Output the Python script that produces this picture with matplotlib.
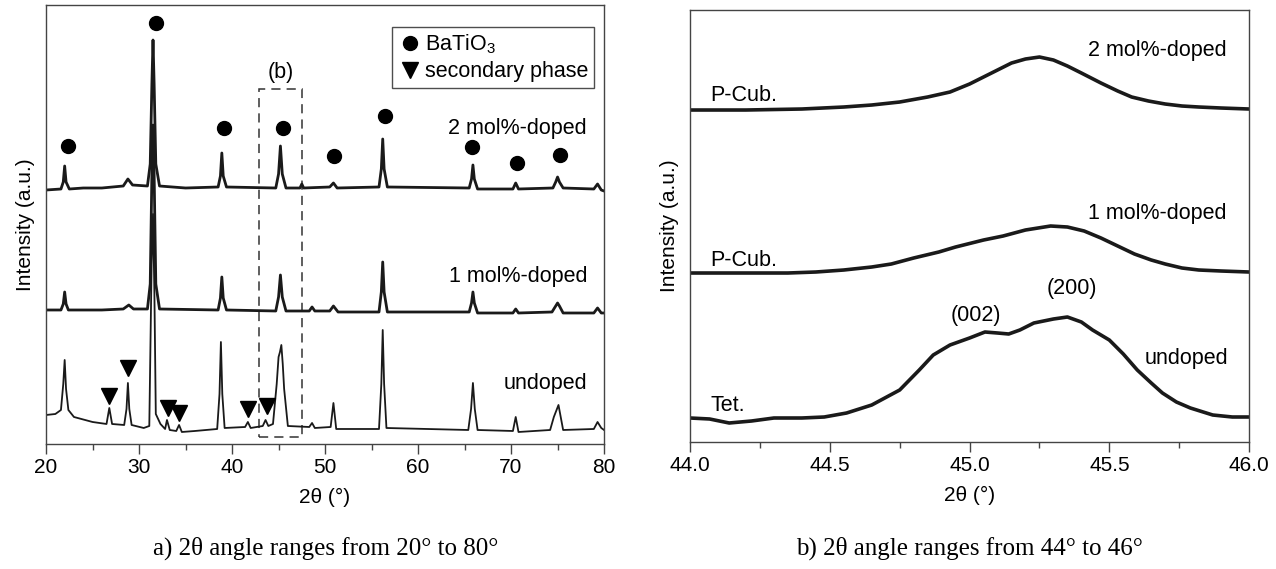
import matplotlib
matplotlib.use("Agg")
import matplotlib.pyplot as plt
from matplotlib.lines import Line2D
from matplotlib.patches import Rectangle

plt.rcParams['font.family'] = ['Liberation Sans', 'DejaVu Sans']
plt.rcParams['mathtext.default'] = 'regular'

# ---- panel a) 2theta 20-80, traces (a.u.)
tt_2mol = [20.0, 21.6, 21.85, 22.0, 22.15, 22.5, 24.0, 26.0, 28.3, 28.8, 29.3,
           30.9, 31.2, 31.38, 31.5, 31.62, 31.8, 32.2, 35.0,
           38.5, 38.75, 38.9, 39.05, 39.4, 44.7, 45.0, 45.2, 45.4, 45.8,
           47.3, 47.5, 47.7, 50.5, 50.9, 51.3,
           55.8, 56.05, 56.2, 56.35, 56.7, 65.5, 65.75, 65.9, 66.05, 66.4,
           70.2, 70.5, 70.8, 74.5, 74.8, 75.0, 75.2, 75.6,
           78.9, 79.3, 79.7, 80.0]
i_2mol = [254, 255, 262, 278, 262, 255, 256, 256, 258, 265, 259,
          258, 280, 360, 404, 360, 280, 258, 256,
          257, 268, 291, 268, 257, 256, 270, 298, 270, 256,
          256, 260, 256, 257, 261, 256,
          257, 275, 305, 275, 257, 256, 265, 279, 265, 255,
          255, 261, 255, 256, 262, 267, 262, 256,
          255, 260, 254, 253]

tt_1mol = [20.0, 21.6, 21.85, 22.0, 22.15, 22.4, 26.0, 28.3, 28.9, 29.4,
           30.9, 31.2, 31.38, 31.5, 31.62, 31.8, 32.2,
           38.5, 38.75, 38.9, 39.05, 39.4, 44.7, 45.0, 45.2, 45.4, 45.8,
           48.3, 48.6, 48.9, 50.5, 50.9, 51.4,
           55.8, 56.05, 56.2, 56.35, 56.7, 65.5, 65.75, 65.9, 66.05, 66.4,
           70.2, 70.5, 70.8, 74.4, 74.8, 75.0, 75.2, 75.6,
           78.9, 79.3, 79.7, 80.0]
i_1mol = [134, 134, 140, 152, 140, 134, 134, 135, 139, 135,
          135, 160, 270, 319, 270, 160, 135,
          134, 146, 167, 146, 134, 133, 147, 169, 147, 133,
          133, 137, 133, 133, 138, 132,
          132, 152, 182, 152, 132, 132, 141, 152, 141, 131,
          131, 135, 131, 132, 138, 141, 138, 131,
          131, 136, 131, 131]

tt_und = [20.0, 21.0, 21.6, 21.85, 22.0, 22.15, 22.4, 23.0, 25.0, 26.5, 26.8, 27.1,
          28.4, 28.65, 28.8, 28.95, 29.2,
          30.5, 31.1, 31.35, 31.5, 31.65, 31.8, 32.3, 32.8, 33.0, 33.3, 34.0, 34.3, 34.6,
          36.0, 38.4, 38.65, 38.8, 38.95, 39.2, 41.4, 41.7, 42.0, 43.3, 43.6, 43.9,
          44.4, 44.8, 45.0, 45.15, 45.3, 45.45, 45.6, 46.0,
          48.3, 48.6, 48.9, 50.6, 50.9, 51.2,
          55.8, 56.05, 56.2, 56.35, 56.6,
          65.4, 65.7, 65.9, 66.1, 66.4, 70.2, 70.5, 70.8,
          74.2, 74.6, 75.1, 75.6, 78.9, 79.3, 79.7, 80.0]
i_und = [29, 30, 34, 60, 84, 55, 34, 27, 22, 20, 36, 20,
         19, 35, 61, 35, 19,
         16, 18, 180, 230, 150, 30, 20, 15, 24, 14, 13, 19, 12,
         13, 15, 50, 102, 50, 16, 17, 22, 16, 18, 24, 18,
         20, 60, 87, 92, 99, 80, 55, 18,
         17, 21, 16, 17, 41, 15,
         15, 60, 114, 60, 16,
         14, 35, 61, 35, 14, 13, 27, 12,
         14, 27, 39, 14, 15, 22, 16, 14]

# phase markers
bto_tt = [22.37, 31.83, 39.14, 45.48, 50.97, 56.45, 65.81, 70.65, 75.27]
bto_i = [298, 421, 316, 316, 288, 328, 297, 281, 289]
sec_tt = [26.8, 28.8, 33.1, 34.3, 41.7, 43.8]
sec_i = [48, 76, 36, 31, 35, 38]

# ---- panel b) 2theta 44-46
tt_b_2mol = [44.0, 44.2, 44.4, 44.55, 44.65, 44.75, 44.85, 44.93, 45.0, 45.05, 45.1,
             45.15, 45.2, 45.25, 45.3, 45.35, 45.4, 45.47, 45.53, 45.58, 45.64,
             45.7, 45.76, 45.82, 45.9, 46.0]
i_b_2mol = [332, 332, 333, 335, 337, 340, 345, 350, 358, 365, 372,
            379, 383, 385, 382, 376, 369, 359, 351, 345, 341,
            338, 336, 335, 334, 333]
tt_b_1mol = [44.0, 44.2, 44.35, 44.45, 44.55, 44.65, 44.72, 44.8, 44.89, 44.95, 45.05,
             45.12, 45.2, 45.29, 45.35, 45.41, 45.47, 45.53, 45.59, 45.65, 45.7,
             45.76, 45.82, 45.9, 46.0]
i_b_1mol = [169, 169, 169, 170, 172, 175, 178, 184, 190, 195, 202,
            206, 212, 216, 215, 211, 204, 196, 188, 182, 178,
            174, 172, 171, 170]
tt_b_und = [44.0, 44.07, 44.14, 44.22, 44.3, 44.4, 44.48, 44.56, 44.65, 44.75, 44.82,
            44.87, 44.93, 45.0, 45.055, 45.1, 45.14, 45.18, 45.23, 45.3, 45.35,
            45.4, 45.44, 45.5, 45.55, 45.6, 45.65, 45.69, 45.74, 45.79, 45.87,
            45.94, 46.0]
i_b_und = [24, 23, 19, 21, 24, 24, 25, 29, 37, 52, 72,
           87, 97, 104, 110, 109, 108, 112, 119, 123, 125,
           120, 112, 102, 88, 72, 59, 49, 40, 34, 27,
           25, 25]

line_c = '#1a1a1a'
spine_c = '#444444'
fs_txt = 15.5

fig = plt.figure(figsize=(12.76, 5.69), dpi=100)
ax1 = fig.add_axes([0.0361, 0.2197, 0.4373, 0.7715])
ax2 = fig.add_axes([0.5408, 0.2232, 0.4381, 0.7592])

ax1.plot(tt_2mol, i_2mol, color=line_c, lw=2.0, solid_joinstyle='round')
ax1.plot(tt_1mol, i_1mol, color=line_c, lw=2.0, solid_joinstyle='round')
ax1.plot(tt_und, i_und, color=line_c, lw=1.3, solid_joinstyle='round')
ax1.plot(bto_tt, bto_i, 'o', color='black', ms=10, ls='none')
ax1.plot(sec_tt, sec_i, 'v', color='black', ms=12, ls='none')

ax1.add_patch(Rectangle((42.9, 7), 47.5 - 42.9, 348, fill=False, ls=(0, (6, 4)),
                        lw=1.1, ec='#333333'))
ax1.text(45.2, 372, '(b)', ha='center', va='center', fontsize=fs_txt)

ax1.text(78.17, 316, '2 mol%-doped', ha='right', va='center', fontsize=fs_txt)
ax1.text(78.17, 167, '1 mol%-doped', ha='right', va='center', fontsize=fs_txt)
ax1.text(78.17, 60, 'undoped', ha='right', va='center', fontsize=fs_txt)

handles = [Line2D([], [], marker='o', color='black', ls='none', ms=10),
           Line2D([], [], marker='v', color='black', ls='none', ms=11)]
leg = ax1.legend(handles, ['BaTiO$_3$', 'secondary phase'], loc='upper right',
                 bbox_to_anchor=(0.982, 0.95), fontsize=fs_txt, frameon=True,
                 fancybox=False, edgecolor='#222222', handletextpad=0.1,
                 handlelength=1.2, borderpad=0.25, labelspacing=0.25, borderaxespad=0)
leg.get_frame().set_linewidth(1.0)

ax1.set_xlim(20, 80)
ax1.set_ylim(0, 439)
ax1.set_xticks(range(20, 81, 10))
ax1.set_xticks(range(25, 80, 10), minor=True)

ax2.plot(tt_b_2mol, i_b_2mol, color=line_c, lw=2.6, solid_joinstyle='round')
ax2.plot(tt_b_1mol, i_b_1mol, color=line_c, lw=2.6, solid_joinstyle='round')
ax2.plot(tt_b_und, i_b_und, color=line_c, lw=2.6, solid_joinstyle='round')
ax2.text(44.072, 347, 'P-Cub.', ha='left', va='center', fontsize=fs_txt)
ax2.text(44.072, 182, 'P-Cub.', ha='left', va='center', fontsize=fs_txt)
ax2.text(44.072, 37, 'Tet.', ha='left', va='center', fontsize=fs_txt)
ax2.text(45.921, 392, '2 mol%-doped', ha='right', va='center', fontsize=fs_txt)
ax2.text(45.921, 229, '1 mol%-doped', ha='right', va='center', fontsize=fs_txt)
ax2.text(45.924, 84, 'undoped', ha='right', va='center', fontsize=fs_txt)
ax2.text(45.367, 154, '(200)', ha='center', va='center', fontsize=fs_txt)
ax2.text(45.023, 127, '(002)', ha='center', va='center', fontsize=fs_txt)

ax2.set_xlim(44.0, 46.0)
ax2.set_ylim(0, 432)
ax2.set_xticks([44.0, 44.5, 45.0, 45.5, 46.0])
ax2.set_xticks([44.25, 44.75, 45.25, 45.75], minor=True)
ax2.set_xticklabels(['44.0', '44.5', '45.0', '45.5', '46.0'])

for ax in (ax1, ax2):
    ax.set_yticks([])
    for s in ax.spines.values():
        s.set_color(spine_c)
        s.set_linewidth(1.0)
    ax.tick_params(axis='x', which='major', direction='out', length=7, width=1,
                   color=spine_c, labelsize=15, pad=3)
    ax.tick_params(axis='x', which='minor', direction='out', length=4, width=1,
                   color=spine_c)
    ax.set_xlabel('2θ (°)', fontsize=15, labelpad=8)
    ax.set_ylabel('Intensity (a.u.)', fontsize=15, labelpad=8)

fig.text(0.2555, 0.037, 'a) 2θ angle ranges from 20° to 80°', ha='center', va='center',
         fontsize=18, family='Liberation Serif')
fig.text(0.760, 0.037, 'b) 2θ angle ranges from 44° to 46°', ha='center', va='center',
         fontsize=18, family='Liberation Serif')

fig.savefig('out.png', dpi=100)
